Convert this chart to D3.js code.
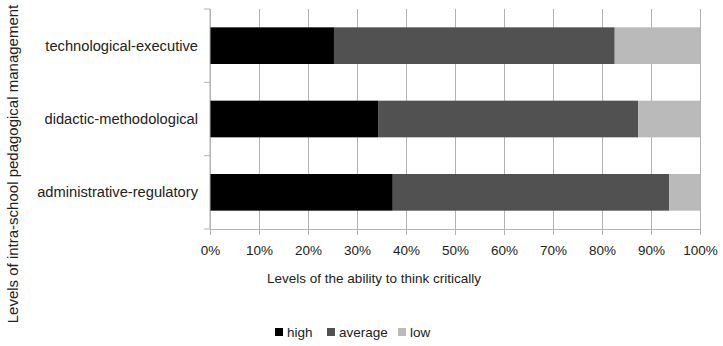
<!DOCTYPE html>
<html>
<head>
<meta charset="utf-8">
<script src="https://cdn.jsdelivr.net/npm/d3@7"></script>
<style>
  body { margin: 0; background: #fff; }
  svg { display: block; font-family: "Liberation Sans", Arial, sans-serif; }
</style>
</head>
<body>
<div id="chart"></div>
<script>
// Management levels, top to bottom
const categories = ['technological-executive', 'didactic-methodological', 'administrative-regulatory'];
const seriesNames = ['high', 'average', 'low'];
const high = [25.3, 34.3, 37.3];
const average = [57.3, 53.1, 56.4];
const low = [17.4, 12.6, 6.3];
const colors = ['#000000', '#515151', '#bababa'];
const xTicks = [0, 10, 20, 30, 40, 50, 60, 70, 80, 90, 100];

const width = 723, height = 346;
const margin = { top: 9, right: 23, bottom: 117, left: 210 };
const innerW = width - margin.left - margin.right;
const innerH = height - margin.top - margin.bottom;

const rows = categories.map((c, i) => ({ category: c, high: high[i], average: average[i], low: low[i] }));
const stacked = d3.stack().keys(seriesNames)(rows);

const svg = d3.select('#chart').append('svg')
  .attr('width', width)
  .attr('height', height);

const g = svg.append('g').attr('transform', `translate(${margin.left},${margin.top})`);

const x = d3.scaleLinear().domain([0, 100]).range([0, innerW]);
const y = d3.scaleBand().domain(categories).range([0, innerH]).paddingInner(0.5).paddingOuter(0.25);

// vertical grid lines
g.append('g')
  .selectAll('line')
  .data(xTicks)
  .join('line')
  .attr('x1', d => x(d)).attr('x2', d => x(d))
  .attr('y1', 0).attr('y2', innerH)
  .attr('stroke', '#b3b3b3')
  .attr('stroke-width', 1)
  .attr('shape-rendering', 'crispEdges');

// stacked bars
g.append('g')
  .selectAll('g')
  .data(stacked)
  .join('g')
  .attr('fill', (d, i) => colors[i])
  .selectAll('rect')
  .data(d => d)
  .join('rect')
  .attr('x', d => x(d[0]))
  .attr('width', d => x(d[1]) - x(d[0]))
  .attr('y', d => y(d.data.category))
  .attr('height', y.bandwidth());

// x axis
const xAxis = g.append('g')
  .attr('transform', `translate(0,${innerH})`)
  .call(d3.axisBottom(x).tickValues(xTicks).tickFormat(d => d + '%').tickSize(6).tickPadding(10));
xAxis.select('.domain').attr('stroke', '#b3b3b3');
xAxis.selectAll('.tick line').attr('stroke', '#b3b3b3');
xAxis.selectAll('.tick text')
  .attr('fill', '#222')
  .style('font-size', '13.5px')
  .style('font-family', '"Liberation Sans", Arial, sans-serif');

// y axis: category ticks sit between bands
const yAxis = g.append('g');
yAxis.append('line')
  .attr('x1', 0).attr('x2', 0).attr('y1', 0).attr('y2', innerH)
  .attr('stroke', '#b3b3b3');
const step = innerH / categories.length;
yAxis.selectAll('line.sep')
  .data(d3.range(categories.length + 1))
  .join('line')
  .attr('class', 'sep')
  .attr('x1', -6).attr('x2', 0)
  .attr('y1', d => d * step).attr('y2', d => d * step)
  .attr('stroke', '#b3b3b3');
yAxis.selectAll('text')
  .data(categories)
  .join('text')
  .attr('x', -12)
  .attr('y', d => y(d) + y.bandwidth() / 2)
  .attr('dy', '0.35em')
  .attr('text-anchor', 'end')
  .attr('fill', '#222')
  .style('font-size', '14.7px')
  .text(d => d);

// axis titles
svg.append('text')
  .attr('x', 374)
  .attr('y', 278)
  .attr('dy', '0.35em')
  .attr('text-anchor', 'middle')
  .attr('fill', '#222')
  .style('font-size', '13.5px')
  .text('Levels of the ability to think critically');

svg.append('text')
  .attr('transform', 'translate(13,164) rotate(-90)')
  .attr('dy', '0.35em')
  .attr('text-anchor', 'middle')
  .attr('fill', '#222')
  .style('font-size', '15px')
  .text('Levels of intra-school pedagogical management');

// legend
const legendX = [275, 327, 398];
const legend = svg.append('g').attr('transform', 'translate(0,332)');
const items = legend.selectAll('g')
  .data(seriesNames)
  .join('g')
  .attr('transform', (d, i) => `translate(${legendX[i]},0)`);
items.append('rect')
  .attr('x', 0).attr('y', -4)
  .attr('width', 8).attr('height', 8)
  .attr('fill', (d, i) => colors[i]);
items.append('text')
  .attr('x', 12)
  .attr('dy', '0.35em')
  .attr('fill', '#222')
  .style('font-size', '13.5px')
  .text(d => d);
</script>
</body>
</html>
